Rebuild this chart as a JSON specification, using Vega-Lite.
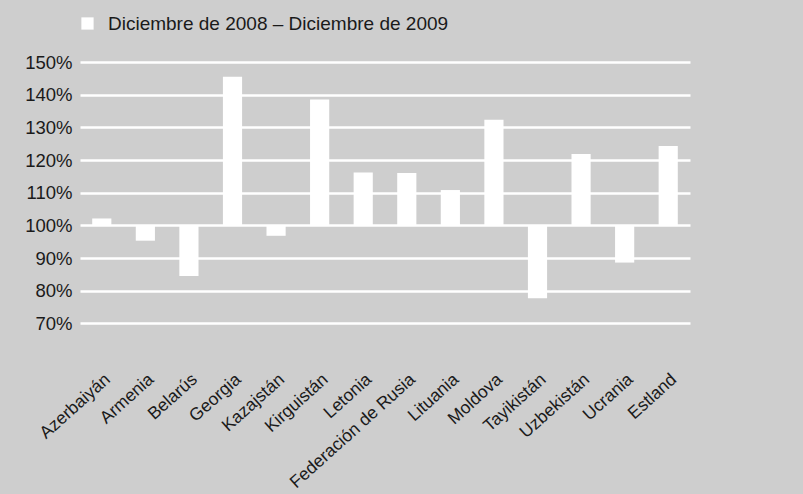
{
  "$schema": "https://vega.github.io/schema/vega-lite/v6.json",
  "autosize": {"type": "none"},
  "width": 610,
  "height": 294,
  "padding": {"left": 80, "top": 62, "right": 113, "bottom": 138},
  "background": "#cecece",
  "config": {
    "view": {"stroke": null},
    "font": "Liberation Sans",
    "axis": {"labelFont": "Liberation Sans", "labelColor": "#1a1a1a"},
    "legend": {"labelFont": "Liberation Sans", "labelColor": "#1a1a1a"}
  },
  "data": {
    "values": [
      {"pais": "Azerbaiyán", "valor": 102.1, "serie": "Diciembre de 2008 – Diciembre de 2009"},
      {"pais": "Armenia", "valor": 95.3, "serie": "Diciembre de 2008 – Diciembre de 2009"},
      {"pais": "Belarús", "valor": 84.5, "serie": "Diciembre de 2008 – Diciembre de 2009"},
      {"pais": "Georgia", "valor": 145.5, "serie": "Diciembre de 2008 – Diciembre de 2009"},
      {"pais": "Kazajstán", "valor": 96.8, "serie": "Diciembre de 2008 – Diciembre de 2009"},
      {"pais": "Kirguistán", "valor": 138.5, "serie": "Diciembre de 2008 – Diciembre de 2009"},
      {"pais": "Letonia", "valor": 116.2, "serie": "Diciembre de 2008 – Diciembre de 2009"},
      {"pais": "Federación de Rusia", "valor": 116.0, "serie": "Diciembre de 2008 – Diciembre de 2009"},
      {"pais": "Lituania", "valor": 110.8, "serie": "Diciembre de 2008 – Diciembre de 2009"},
      {"pais": "Moldova", "valor": 132.3, "serie": "Diciembre de 2008 – Diciembre de 2009"},
      {"pais": "Tayikistán", "valor": 77.7, "serie": "Diciembre de 2008 – Diciembre de 2009"},
      {"pais": "Uzbekistán", "valor": 121.8, "serie": "Diciembre de 2008 – Diciembre de 2009"},
      {"pais": "Ucrania", "valor": 88.6, "serie": "Diciembre de 2008 – Diciembre de 2009"},
      {"pais": "Estland", "valor": 124.3, "serie": "Diciembre de 2008 – Diciembre de 2009"}
    ]
  },
  "mark": {"type": "bar", "opacity": 1},
  "encoding": {
    "x": {
      "field": "pais",
      "type": "nominal",
      "sort": null,
      "scale": {"paddingInner": 0.56, "paddingOuter": 0.28},
      "axis": {
        "title": null,
        "labelAngle": -42,
        "labelFontSize": 17.5,
        "labelPadding": 14,
        "labelLimit": 0,
        "ticks": false,
        "domain": false,
        "grid": false
      }
    },
    "y": {
      "field": "valor",
      "type": "quantitative",
      "scale": {"domain": [60, 150], "nice": false, "zero": false},
      "axis": {
        "title": null,
        "values": [70, 80, 90, 100, 110, 120, 130, 140, 150],
        "labelExpr": "datum.value + '%'",
        "labelFontSize": 18.5,
        "labelPadding": 8,
        "ticks": false,
        "domain": false,
        "grid": true,
        "gridColor": "#ffffff",
        "gridWidth": 2.5,
        "gridOpacity": 1
      }
    },
    "y2": {"datum": 100},
    "color": {
      "field": "serie",
      "type": "nominal",
      "scale": {"range": ["#ffffff"]},
      "legend": {
        "title": null,
        "orient": "none",
        "legendX": -2,
        "legendY": -48,
        "symbolType": "square",
        "symbolSize": 150,
        "symbolStrokeWidth": 0,
        "symbolOpacity": 1,
        "labelFontSize": 19,
        "labelOffset": 11,
        "labelLimit": 0
      }
    }
  }
}
